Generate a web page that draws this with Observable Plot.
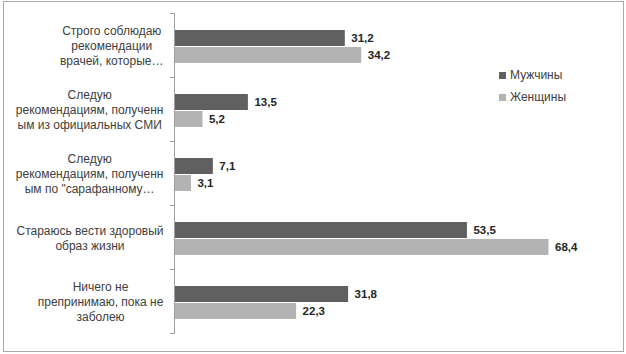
<!DOCTYPE html>
<html><head><meta charset="utf-8">
<script src="https://cdn.jsdelivr.net/npm/d3@7"></script>
<script src="https://cdn.jsdelivr.net/npm/@observablehq/plot@0.6"></script>
<style>
body{margin:0;background:#fff;}
#wrap{position:relative;width:626px;height:354px;overflow:hidden;font-family:"Liberation Sans",Arial,sans-serif;}
#border{position:absolute;left:3px;top:1px;width:621px;height:351px;border:1px solid #a8a8a8;box-sizing:border-box;pointer-events:none}
#legend{position:absolute;left:499px;top:64px;font-size:12px;color:#404040;}
.item{display:flex;align-items:center;height:22px;}
.sw{width:7px;height:7px;margin-right:4px;}
</style></head>
<body>
<div id="wrap"><div id="chart"></div><div id="legend"></div><div id="border"></div></div>
<script>
const categories = [
  "Строго соблюдаю\nрекомендации\nврачей, которые…",
  "Следую\nрекомендациям, полученн\nым из официальных СМИ",
  "Следую\nрекомендациям, полученн\nым по \"сарафанному…",
  "Стараюсь вести здоровый\nобраз жизни",
  "Ничего не\nпрепринимаю, пока не\nзаболею"
];
const series = ["Мужчины", "Женщины"];
const men = [31.2, 13.5, 7.1, 53.5, 31.8];
const women = [34.2, 5.2, 3.1, 68.4, 22.3];
const colors = ["#606060", "#b3b3b3"];

const data = categories.flatMap((c, i) => [
  {category: c, series: series[0], value: men[i]},
  {category: c, series: series[1], value: women[i]}
]);
const fmt = v => v.toFixed(1).replace(".", ",");

const W = 626, ML = 174, MR = 14;
const axisColor = "#a0a0a0";

const chart = Plot.plot({
  width: W, height: 354,
  marginLeft: ML, marginRight: MR, marginTop: 13, marginBottom: 21,
  style: {fontFamily: "Liberation Sans, Arial, sans-serif", background: "transparent"},
  x: {domain: [0, 80], axis: null},
  y: {domain: series, paddingInner: 0.05, paddingOuter: 0.83, align: 0.55, axis: null},
  fy: {domain: categories, padding: 0, axis: null},
  color: {domain: series, range: colors},
  marks: [
    Plot.barX(data, {x: "value", y: "series", fy: "category", fill: "series"}),
    Plot.text(data, {x: "value", y: "series", fy: "category", text: d => fmt(d.value),
      textAnchor: "start", dx: 6, fontWeight: "bold", fontSize: 11.5, fill: "#262626"}),
    Plot.frame({anchor: "left", stroke: axisColor}),
    Plot.frame({anchor: "top", stroke: axisColor, insetLeft: -4, insetRight: W - ML - MR}),
    Plot.frame({anchor: "bottom", stroke: axisColor, insetLeft: -4, insetRight: W - ML - MR}),
    Plot.axisFy({anchor: "left", tickSize: 0, tickPadding: 3, textAnchor: "end", dx: -8,
      lineHeight: 1.25, fontSize: 12, fill: "#404040", label: null})
  ]
});
document.getElementById("chart").appendChild(chart);

// Excel-style: each label block is right-aligned, its lines centred within the block
chart.querySelectorAll('g[aria-label^="fy-axis"] text').forEach(t => {
  const w = t.getBBox().width;
  t.setAttribute("text-anchor", "middle");
  t.querySelectorAll("tspan").forEach(s => s.setAttribute("text-anchor", "middle"));
  const tr = t.getAttribute("transform") || "";
  t.setAttribute("transform", tr + ` translate(${-w / 2},0)`);
});

const legend = document.getElementById("legend");
series.forEach((s, i) => {
  const it = document.createElement("div");
  it.className = "item";
  it.innerHTML = `<span class="sw" style="background:${colors[i]}"></span><span>${s}</span>`;
  legend.appendChild(it);
});
</script>
</body></html>
